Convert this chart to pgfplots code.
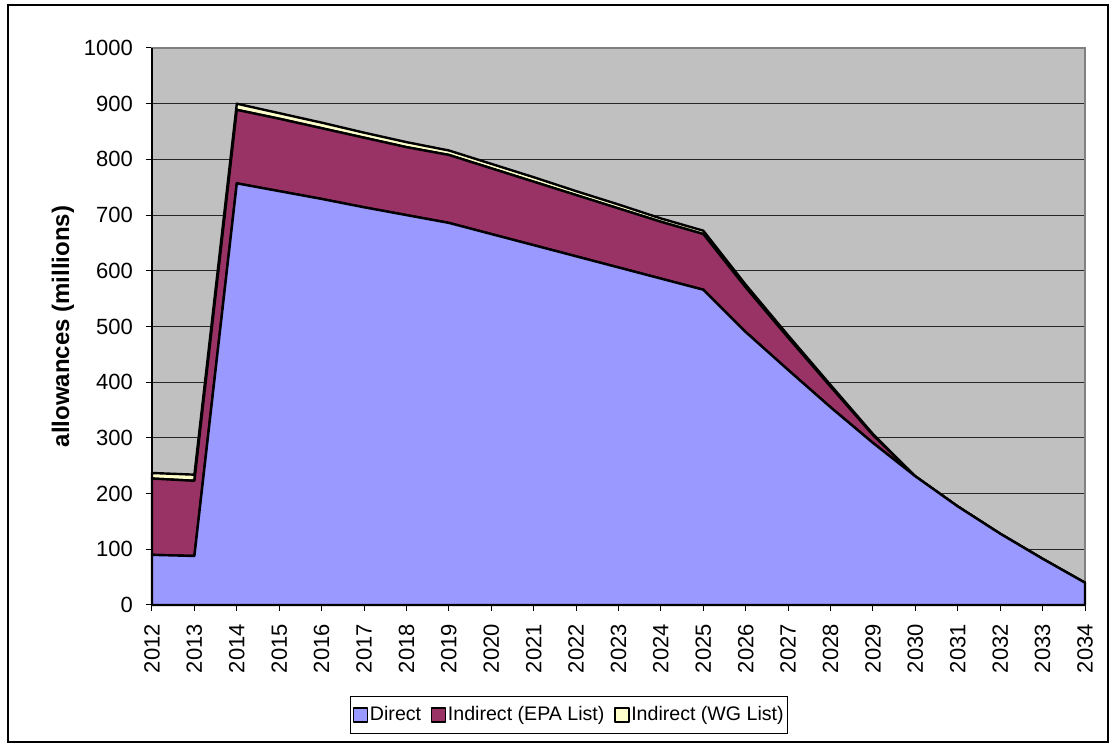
\documentclass[border=0pt]{standalone}
\usepackage{pgfplots}
\pgfplotsset{compat=1.18}
\usepackage{fontspec}
\setmainfont{Liberation Sans}
\definecolor{bggray}{HTML}{C0C0C0}
\definecolor{cdirect}{HTML}{9999FF}
\definecolor{cepa}{HTML}{993366}
\definecolor{cwg}{HTML}{FFFFCC}
\begin{document}
\fontsize{10}{12}\selectfont
\begin{tikzpicture}
\begin{axis}[
  scale only axis,
  width=466.5pt, height=278.5pt,
  xmin=2012, xmax=2034, ymin=0, ymax=1000,
  stack plots=y,
  axis background/.style={fill=bggray},
  axis line style={draw=black!50, line width=0.6pt},
  ymajorgrids,
  grid style={black!85, line width=0.5pt},
  xtick={2012,2013,...,2034},
  ytick={0,100,...,1000},
  xtick pos=lower, ytick pos=left,
  tick align=outside,
  major tick length=3pt,
  tick style={black, line width=0.5pt},
  /pgf/number format/assume math mode=true,
  /pgf/number format/set thousands separator={},
  xticklabel style={rotate=90, anchor=east, font=\fontsize{11}{13}\selectfont},
  xticklabel shift=3pt,
  yticklabel style={font=\fontsize{11}{13}\selectfont, xshift=-3pt},
  ylabel={\bfseries allowances (millions)},
  ylabel style={at={(axis description cs:-0.0954,0.5)}, anchor=center, font=\fontsize{12}{14}\selectfont},
  legend columns=3,
  legend style={at={(axis description cs:0.447,0)}, anchor=center, yshift=-55pt,
    draw=black, line width=0.5pt, font=\fontsize{9.8}{12}\selectfont,
    inner xsep=1pt, inner ysep=4pt,
    nodes={inner sep=0.8pt},
    /tikz/every even column/.append style={column sep=4pt}},
  legend image code/.code={\draw[#1, line width=0.8pt, draw=black] (0pt,-3.5pt) rectangle (7pt,3.5pt);},
  every axis plot/.append style={draw=black, line width=1.2pt, line join=round},
  clip=false,
]
\addplot[fill=cdirect] coordinates {
(2012,90) (2013,88) (2014,757) (2015,743) (2016,729) (2017,714) (2018,700) (2019,686)
(2020,666) (2021,646) (2022,626) (2023,606) (2024,586) (2025,566) (2026,490) (2027,422)
(2028,355) (2029,291) (2030,231) (2031,177) (2032,128) (2033,83) (2034,40)
} \closedcycle;
\addlegendentry{Direct}
\addplot[fill=cepa] coordinates {
(2012,137) (2013,135) (2014,132) (2015,130) (2016,127) (2017,125) (2018,122) (2019,122)
(2020,118) (2021,114) (2022,110) (2023,106) (2024,102) (2025,100) (2026,80) (2027,58)
(2028,37) (2029,14) (2030,0) (2031,0) (2032,0) (2033,0) (2034,0)
} \closedcycle;
\addlegendentry{Indirect (EPA List)}
\addplot[fill=cwg] coordinates {
(2012,10) (2013,11) (2014,11) (2015,10) (2016,10) (2017,9) (2018,9) (2019,8)
(2020,8) (2021,8) (2022,7) (2023,7) (2024,6) (2025,6) (2026,5) (2027,4)
(2028,3) (2029,2) (2030,0) (2031,0) (2032,0) (2033,0) (2034,0)
} \closedcycle;
\addlegendentry{Indirect (WG List)}
\draw[black, line width=1pt] (rel axis cs:0,1) -- (rel axis cs:0,0) -- (rel axis cs:1,0);
\draw[black, line width=0.6pt] (rel axis cs:0,0) ++(-72pt,-68.5pt) rectangle ++(550pt,368.5pt);
\path (rel axis cs:0,0) ++(-76pt,-72pt) rectangle ++(559.5pt,374.5pt);
\end{axis}
\end{tikzpicture}
\end{document}
